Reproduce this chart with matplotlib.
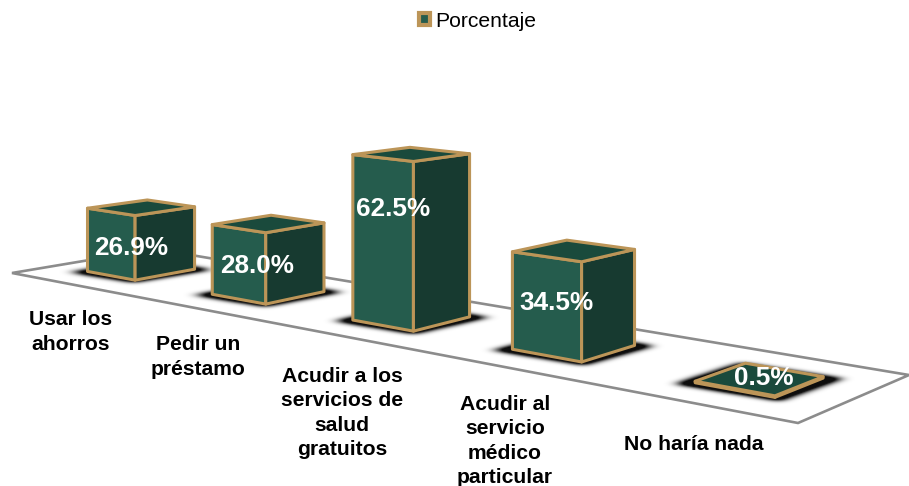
import numpy as np
import matplotlib
matplotlib.use("Agg")
import matplotlib.pyplot as plt
from matplotlib.patches import Polygon, Patch
from matplotlib.path import Path

plt.rcParams['font.family'] = ['Liberation Sans', 'DejaVu Sans']

# --- data ---
categories = ["Usar los\nahorros", "Pedir un\npréstamo",
              "Acudir a los\nservicios de\nsalud\ngratuitos",
              "Acudir al\nservicio\nmédico\nparticular", "No haría nada"]
values = [26.9, 28.0, 62.5, 34.5, 0.5]
series_name = "Porcentaje"

# --- layout, in picture pixels ---
W, H = 909, 486
FLOOR_LEFT, FLOOR_FRONT = (12, 273), (798, 423)
FLOOR_RIGHT, FLOOR_BACK = (909, 375), (155, 249)
Z_SCALE = 2.37     # pixels per percent at w=1
U_SPAN = 1.012     # categories run slightly past the floor quad
BAR_DU = 0.040     # half footprint along the categories
BAR_DV = 0.21      # half footprint across the floor
VALUE_POS = [(131, 248), (257, 266), (393, 209), (556, 303), (764, 378)]
CAT_POS = [(71, 332), (198, 357), (342, 413), (505, 441), (694, 444)]

GREEN_FRONT = "#255c4d"
GREEN_SIDE = "#173a30"
GREEN_TOP = "#1a4a3c"
TAN = "#bc9558"
FLOOR_EDGE = "#8c8c8c"


def floor_matrix(p0, p1, p2, p3):
    # homography from the unit square to the floor quad
    x0, y0 = p0
    x1, y1 = p1
    x2, y2 = p2
    x3, y3 = p3
    sx, sy = x0 - x1 + x2 - x3, y0 - y1 + y2 - y3
    dx1, dx2, dy1, dy2 = x1 - x2, x3 - x2, y1 - y2, y3 - y2
    det = dx1 * dy2 - dx2 * dy1
    g = (sx * dy2 - dx2 * sy) / det
    h = (dx1 * sy - sx * dy1) / det
    return np.array([[x1 - x0 + g * x1, x3 - x0 + h * x3, x0],
                     [y1 - y0 + g * y1, y3 - y0 + h * y3, y0],
                     [g, h, 1.0]])


def project(u, v, z=0.0):
    px, py, w = M @ np.array([u, v, 1.0])
    return px / w, py / w - Z_SCALE * z / w


def blur(img, sigma, axis):
    r = int(3 * sigma)
    k = np.exp(-0.5 * (np.arange(-r, r + 1) / sigma) ** 2)
    k /= k.sum()
    return np.apply_along_axis(lambda a: np.convolve(a, k, mode='same'), axis, img)


M = floor_matrix(FLOOR_LEFT, FLOOR_FRONT, FLOOR_RIGHT, FLOOR_BACK)

fig = plt.figure(figsize=(W / 100, H / 100), dpi=100)
ax = fig.add_axes([0, 0, 1, 1])

ax.add_patch(Polygon([FLOOR_LEFT, FLOOR_FRONT, FLOOR_RIGHT, FLOOR_BACK], closed=True,
                     fc='white', ec=FLOOR_EDGE, lw=1.9, zorder=1))

n = len(values)
xx, yy = np.meshgrid(np.arange(W) + 0.5, np.arange(H) + 0.5)
grid = np.column_stack([xx.ravel(), yy.ravel()])
shadow = np.zeros((H, W))

for i, val in enumerate(values):
    uc = 0.5 + ((i + 0.5) / n - 0.5) * U_SPAN
    u0, u1 = uc - BAR_DU, uc + BAR_DU
    v0, v1 = 0.5 - BAR_DV, 0.5 + BAR_DV
    # corners named as seen on screen
    left, front, right, back = (u0, v0), (u1, v0), (u1, v1), (u0, v1)
    bl, bf, br, bb = [project(*c) for c in (left, front, right, back)]
    tl, tf, tr, tb = [project(*c, val) for c in (left, front, right, back)]

    # footprint for the blurred shadow
    base = np.array([bl, bf, br, bb])
    centre = base.mean(axis=0)
    pts = centre + (base - centre) * [1.3, 1.16] + [0, 1]
    shadow += Path(pts).contains_points(grid).reshape(H, W)

    style = dict(closed=True, ec=TAN, lw=2.2, joinstyle='round', zorder=3)
    ax.add_patch(Polygon([bl, bf, tf, tl], fc=GREEN_FRONT, **style))
    ax.add_patch(Polygon([bf, br, tr, tf], fc=GREEN_SIDE, **style))
    ax.add_patch(Polygon([tl, tf, tr, tb], fc=GREEN_TOP, **style))

    ax.text(*VALUE_POS[i], f"{val:.1f}%", color='white', fontsize=18.8, fontweight='bold',
            ha='center', va='center', zorder=5)
    ax.text(*CAT_POS[i], categories[i], color='black', fontsize=15.2, fontweight='bold',
            ha='center', va='center', linespacing=1.37, zorder=5)

shadow = blur(blur(shadow, 6.0, 1), 1.8, 0)
rgba = np.zeros((H, W, 4))
rgba[..., 3] = np.clip(shadow * 1.6, 0, 0.95)
ax.imshow(rgba, extent=(0, W, H, 0), interpolation='bilinear', zorder=2, aspect='auto')

ax.set_xlim(0, W)
ax.set_ylim(H, 0)
ax.axis('off')

handle = Patch(fc=GREEN_FRONT, ec=TAN, lw=3, label=series_name)
ax.legend(handles=[handle], loc='upper center', bbox_to_anchor=(0.5255, 0.998), frameon=False,
          fontsize=15.2, handlelength=0.5, handleheight=0.5, handletextpad=0.25, borderpad=0.0)

fig.savefig("out.png", dpi=100)
